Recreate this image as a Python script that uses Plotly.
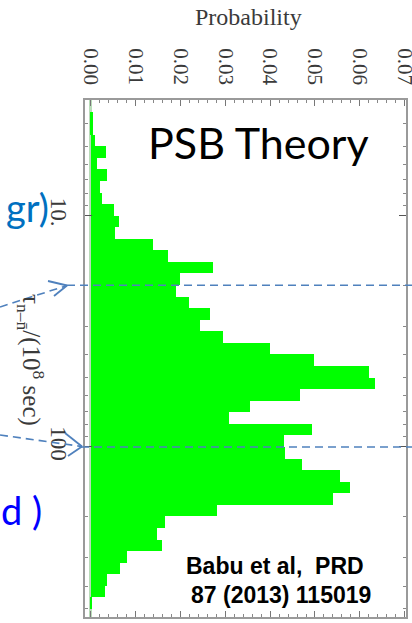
import plotly.graph_objects as go
import math

# ---- data ----
# histogram bins in log10(tau / 1e8 s), lower edge of first bin and bin width
bin_start = 0.5
bin_width = 0.05
probability = [
    0.0, 0.0004, 0.0004, 0.0010, 0.0033, 0.0014, 0.0036, 0.0021, 0.0025, 0.0052,
    0.0062, 0.0053, 0.0138, 0.0172, 0.0272, 0.0198, 0.0191, 0.0220, 0.0265, 0.0243,
    0.0294, 0.0399, 0.0497, 0.0620, 0.0634, 0.0467, 0.0356, 0.0308, 0.0493, 0.0430,
    0.0432, 0.0470, 0.0556, 0.0577, 0.0540, 0.0282, 0.0166, 0.0147, 0.0158, 0.0081,
    0.0064, 0.0035, 0.0032, 0.0003, 0.0,
]
bin_centers = [round(bin_start + bin_width * (i + 0.5), 4) for i in range(len(probability))]

tau_major = [10, 100]
tau_major_text = ["10.", "100"]
tau_minor = [4, 5, 6, 7, 8, 9, 20, 30, 40, 50, 60, 70, 80, 90, 200, 300, 400, 500]
marker_lines_tau = [20, 100]
prob_ticks = [0.00, 0.01, 0.02, 0.03, 0.04, 0.05, 0.06, 0.07]

W, H = 412, 623
L, R, T, B = 85, 6, 100, 6
pw, ph = W - L - R, H - T - B


def px(x):
    return (x - L) / pw


def py(y):
    return 1 - (y - T) / ph


fig = go.Figure()
fig.add_trace(go.Bar(
    x=probability, y=bin_centers, orientation="h", width=bin_width,
    marker=dict(color="#00FF00", line=dict(width=0)), showlegend=False,
))

serif = "Liberation Serif, Times New Roman, serif"
axcol = "#3a3a3a"
fig.update_layout(
    width=W, height=H, margin=dict(l=L, r=R, t=T, b=B, autoexpand=False),
    paper_bgcolor="white", plot_bgcolor="white", bargap=0,
    xaxis=dict(
        side="top", range=[-0.0013, 0.0703], tickvals=prob_ticks,
        ticktext=["%.2f" % v for v in prob_ticks], tickangle=90,
        tickfont=dict(family=serif, size=21, color=axcol),
        ticks="inside", ticklen=6, tickcolor="#777", mirror="ticks",
        showline=True, linecolor="#9a9a9a", linewidth=1.5,
        showgrid=False, zeroline=True, zerolinecolor="#b9dcb9", zerolinewidth=3,
        minor=dict(dtick=0.002, ticklen=3, tickcolor="#888", ticks="inside"),
        ticklabelstandoff=6, ticklabeloverflow="allow", automargin=False,
    ),
    yaxis=dict(
        range=[2.735, 0.5], tickvals=[math.log10(v) for v in tau_major],
        ticktext=tau_major_text, tickangle=90,
        tickfont=dict(family=serif, size=23, color=axcol),
        ticks="inside", ticklen=7, tickcolor="#555", mirror="ticks",
        showline=True, linecolor="#9a9a9a", linewidth=1.5,
        showgrid=False, zeroline=False,
        minor=dict(tickvals=[math.log10(v) for v in tau_minor], ticklen=3,
                   tickcolor="#888", ticks="inside"),
        ticklabelstandoff=5, automargin=False,
    ),
)

blue = "#4F81BD"
# horizontal dashed marker lines
for t, x0 in zip(marker_lines_tau, [67, 81]):
    fig.add_shape(type="line", xref="paper", yref="y", x0=px(x0), x1=px(412),
                  y0=math.log10(t), y1=math.log10(t),
                  line=dict(color=blue, width=1.6, dash="8px,5px"), layer="above")

# arrows coming from the slide text
arrows = [((0, 307), (67, 285.5), (48, 281), (54, 296)),
          ((0, 435), (82, 446.5), (65, 433), (68, 456))]
for start, tip, a1, a2 in arrows:
    fig.add_shape(type="line", xref="paper", yref="paper",
                  x0=px(start[0]), y0=py(start[1]), x1=px(tip[0]), y1=py(tip[1]),
                  line=dict(color=blue, width=1.6, dash="8px,5px"), layer="above")
    for a in (a1, a2):
        fig.add_shape(type="line", xref="paper", yref="paper",
                      x0=px(a[0]), y0=py(a[1]), x1=px(tip[0]), y1=py(tip[1]),
                      line=dict(color=blue, width=1.8), layer="above")

ann = []
ann.append(dict(text="Probability", x=px(249), y=py(17), xref="paper", yref="paper",
                showarrow=False, font=dict(family=serif, size=24, color=axcol),
                xanchor="center", yanchor="middle"))
ann.append(dict(text="τ<sub>n–n̄</sub>/(10<sup>8</sup> sec)", x=px(31), y=py(360),
                xref="paper", yref="paper", showarrow=False, textangle=90,
                font=dict(family=serif, size=25, color=axcol),
                xanchor="center", yanchor="middle"))
ann.append(dict(text="PSB Theory", x=px(371), y=py(142), xref="paper", yref="paper",
                showarrow=False, font=dict(family="Lato", size=43, color="black"),
                xanchor="right", yanchor="middle"))
ann.append(dict(text="<b>Babu et al,  PRD</b>", x=px(366), y=py(566), xref="paper", yref="paper",
                showarrow=False, font=dict(family="Liberation Sans, Arial", size=23, color="black"),
                xanchor="right", yanchor="middle"))
ann.append(dict(text="<b>87 (2013) 115019</b>", x=px(373), y=py(595), xref="paper", yref="paper",
                showarrow=False, font=dict(family="Liberation Sans, Arial", size=23, color="black"),
                xanchor="right", yanchor="middle"))
ann.append(dict(text="gr)", x=px(51), y=py(207), xref="paper", yref="paper",
                showarrow=False, font=dict(family="Lato", size=38, color="#0070C0"),
                xanchor="right", yanchor="middle"))
ann.append(dict(text="d )", x=px(44), y=py(510), xref="paper", yref="paper",
                showarrow=False, font=dict(family="Lato", size=38, color="#0000FF"),
                xanchor="right", yanchor="middle"))
fig.update_layout(annotations=ann)

fig.write_html("out.html")
